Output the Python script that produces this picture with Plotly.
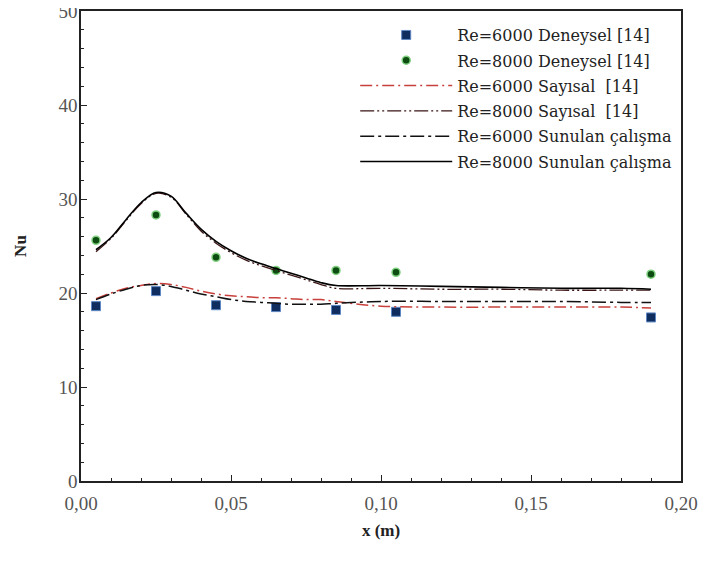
import plotly.graph_objects as go

# Experimental data
x_exp = [0.005, 0.025, 0.045, 0.065, 0.085, 0.105, 0.19]
nu_exp_6000 = [18.6, 20.2, 18.7, 18.5, 18.2, 18.0, 17.4]
nu_exp_8000 = [25.6, 28.3, 23.8, 22.4, 22.4, 22.2, 22.0]

# Numerical curves
x_num = [0.005, 0.01, 0.015, 0.02, 0.025, 0.03, 0.035, 0.04, 0.045, 0.05, 0.055,
         0.06, 0.065, 0.07, 0.075, 0.08, 0.085, 0.10, 0.12, 0.14, 0.16, 0.18, 0.19]
nu_say_6000 = [19.4, 20.0, 20.5, 20.8, 21.0, 20.9, 20.6, 20.2, 19.9, 19.7, 19.6,
               19.5, 19.5, 19.4, 19.3, 19.3, 19.1, 18.6, 18.5, 18.5, 18.5, 18.5, 18.4]
nu_say_8000 = [24.4, 25.8, 27.7, 29.5, 30.6, 30.2, 28.4, 26.6, 25.3, 24.3, 23.5,
               22.9, 22.4, 21.9, 21.4, 20.9, 20.5, 20.5, 20.4, 20.4, 20.3, 20.3, 20.3]
nu_sun_6000 = [19.3, 19.9, 20.4, 20.8, 20.9, 20.7, 20.3, 19.9, 19.6, 19.3, 19.1,
               19.0, 18.9, 18.8, 18.8, 18.8, 18.9, 19.1, 19.1, 19.1, 19.1, 19.0, 19.0]
nu_sun_8000 = [24.6, 25.9, 27.8, 29.6, 30.7, 30.3, 28.5, 26.8, 25.5, 24.5, 23.7,
               23.1, 22.6, 22.1, 21.6, 21.1, 20.8, 20.8, 20.7, 20.6, 20.5, 20.5, 20.4]

x_ticks = [0.0, 0.05, 0.10, 0.15, 0.20]
y_ticks = [0, 10, 20, 30, 40, 50]

names = ["Re=6000 Deneysel [14]", "Re=8000 Deneysel [14]", "Re=6000 Sayısal  [14]",
         "Re=8000 Sayısal  [14]", "Re=6000 Sunulan çalışma", "Re=8000 Sunulan çalışma"]

serif = "Liberation Serif, Times New Roman, serif"
legend_font = "DejaVu Serif, serif"

fig = go.Figure()
fig.add_trace(go.Scatter(x=x_exp, y=nu_exp_6000, mode="markers", name=names[0], legendgroup="g0",
                         marker=dict(symbol="square", size=9, color="#0f2d5e",
                                     line=dict(color="#5d86c4", width=1))))
fig.add_trace(go.Scatter(x=x_exp, y=nu_exp_8000, mode="markers", name=names[1], legendgroup="g1",
                         marker=dict(symbol="circle", size=8, color="#0d4d12",
                                     line=dict(color="#7fd07f", width=1.5))))
fig.add_trace(go.Scatter(x=x_num, y=nu_say_6000, mode="lines", name=names[2], legendgroup="g2",
                         line=dict(color="#c8403c", width=1.5, shape="spline",
                                   dash="12px,4px,2px,4px")))
fig.add_trace(go.Scatter(x=x_num, y=nu_say_8000, mode="lines", name=names[3], legendgroup="g3",
                         line=dict(color="#3a1414", width=1.3, shape="spline",
                                   dash="14px,3px,2px,3px,2px,3px")))
fig.add_trace(go.Scatter(x=x_num, y=nu_sun_6000, mode="lines", name=names[4], legendgroup="g4",
                         line=dict(color="#111111", width=1.5, shape="spline",
                                   dash="14px,4px,3px,4px")))
fig.add_trace(go.Scatter(x=x_num, y=nu_sun_8000, mode="lines", name=names[5], legendgroup="g5",
                         line=dict(color="#000000", width=1.6, shape="spline")))

axis_common = dict(showline=True, linecolor="#222222", linewidth=1.5, mirror=True,
                   ticks="inside", ticklen=6, tickwidth=1.2, tickcolor="#222222",
                   showgrid=False, zeroline=False, automargin=False,
                   ticklabeloverflow="allow",
                   tickfont=dict(family=serif, size=19, color="#555555"))

# page body has an 8px margin; size the figure so it fits the 707x562 window
fig.update_layout(
    width=691, height=546,
    margin=dict(l=73, r=18, t=3, b=73),
    paper_bgcolor="white", plot_bgcolor="white",
    separators=",.",
    font=dict(family=serif, color="#222222"),
    xaxis=dict(range=[0, 0.2], tickvals=x_ticks, tickformat=".2f", ticklabelstandoff=4,
               minor=dict(dtick=0.01, ticks="inside", ticklen=3, tickcolor="#222222"),
               title=dict(text="<b>x (m)</b>", font=dict(family=serif, size=17, color="#222222"),
                          standoff=12),
               **axis_common),
    yaxis=dict(range=[0, 50], tickvals=y_ticks, ticklabelstandoff=-2,
               minor=dict(dtick=2, ticks="inside", ticklen=3, tickcolor="#222222"),
               title=dict(text="<b>Nu</b>", font=dict(family=serif, size=17, color="#222222"),
                          standoff=28),
               **axis_common),
    legend=dict(x=0.457, y=0.985, xanchor="left", yanchor="top",
                bgcolor="rgba(0,0,0,0)", borderwidth=0, itemwidth=92,
                traceorder="grouped", tracegroupgap=1.5,
                font=dict(family=legend_font, size=16, color="#222222")),
    showlegend=True,
)

fig.write_html("out.html")
